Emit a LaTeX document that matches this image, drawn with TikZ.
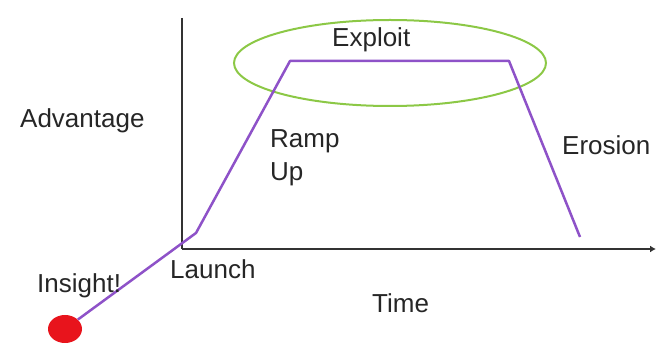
\documentclass[tikz,border=0pt]{standalone}
\usepackage{fontspec}
\setmainfont{Liberation Sans}
\usetikzlibrary{shapes.geometric, arrows.meta}
\definecolor{curveP}{RGB}{142,82,200}
\definecolor{zoneG}{RGB}{140,200,70}
\definecolor{dotR}{RGB}{232,20,28}
\tikzstyle{lbl}=[anchor=base west, inner sep=0pt, font=\fontsize{26}{31}\selectfont, text=black!85]
\tikzstyle{axis}=[line width=2.8pt, black!80]

\begin{document}
\begin{tikzpicture}[x=1pt, y=-1pt]
			\useasboundingbox (0,0) rectangle (656,363);

			% Axes
			\coordinate (origin) at (182,249);
			\coordinate (ytop)   at (182,18);
			\coordinate (xend)   at (656,249);
			\draw[axis] (ytop) -- (origin);
			\draw[axis, -{Latex[length=6pt, width=7pt]}] (origin) -- (xend);

			% Exploit zone
			\node[ellipse, draw=zoneG, line width=2pt, minimum width=312pt, minimum height=86pt] (zone) at (390,63) {};

			% Advantage curve
			\node[ellipse, fill=dotR, minimum width=34pt, minimum height=28pt, inner sep=0pt] (insightdot) at (65,329) {};
			\coordinate (kink)  at (196,233);
			\coordinate (peakL) at (290,61);
			\coordinate (peakR) at (509,61);
			\coordinate (fall)  at (580,237);
			\draw[curveP, line width=2.5pt, line join=round] (insightdot) -- (kink) -- (peakL) -- (peakR) -- (fall);

			% Labels
			\node[lbl] (advantage) at (20,128) {Advantage};
			\node[lbl] (exploit)   at (332,47)  {Exploit};
			\node[lbl] (ramp)      at (270,148) {Ramp};
			\node[lbl] (up)        at (270,181) {Up};
			\node[lbl] (erosion)   at (562,155) {Erosion};
			\node[lbl] (launch)    at (170,279) {Launch};
			\node[lbl] (insight)   at (37,293)  {Insight!};
			\node[lbl] (time)      at (372,313) {Time};
		\end{tikzpicture}
\end{document}
